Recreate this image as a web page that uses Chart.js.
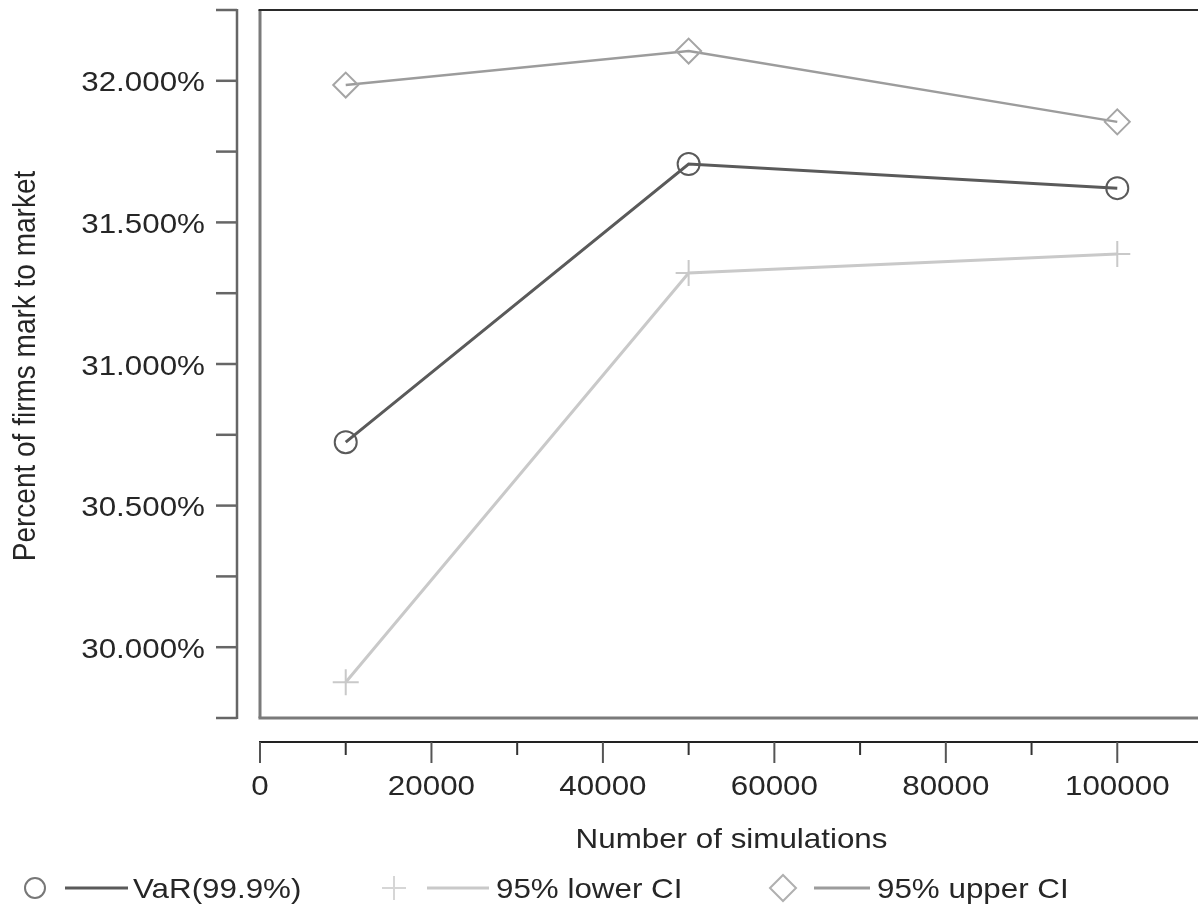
<!DOCTYPE html>
<html>
<head>
<meta charset="utf-8">
<script src="https://cdn.jsdelivr.net/npm/chart.js@4.4.1/dist/chart.umd.min.js"></script>
<style>
  html, body { margin: 0; padding: 0; background: #fff; overflow: hidden; width: 1198px; height: 910px; }
  canvas { display: block; }
</style>
</head>
<body>
<canvas id="c" width="1210" height="910"></canvas>
<script>
// Simulation counts and the resulting share of firms marked to market (%)
const simulations = [10000, 50000, 100000];
const varEstimate = [30.724, 31.706, 31.621];
const lowerCI     = [29.876, 31.321, 31.388];
const upperCI     = [31.985, 32.105, 31.855];

const seriesNames = ['VaR(99.9%)', '95% lower CI', '95% upper CI'];
const xTitle = 'Number of simulations';
const yTitle = 'Percent of firms mark to market';

// Axis ranges and tick spacing
const xRange = [0, 110000];
const xStep = 10000;
const xLabelEvery = 20000;
const yRange = [29.75, 32.25];
const yStep = 0.25;
const yLabelEvery = 0.5;

const FONT = '"Liberation Sans", Arial, Helvetica, sans-serif';
const STRETCH = 1.1;
const INK = '#262626';

function toPoints(ys) {
  return simulations.map((x, i) => ({ x: x, y: ys[i] }));
}

function drawText(ctx, str, x, y, size, align, rotate) {
  ctx.save();
  ctx.translate(x, y);
  if (rotate) {
    ctx.rotate(rotate);
    ctx.scale(1, STRETCH);
  } else {
    ctx.scale(STRETCH, 1);
  }
  ctx.font = size + 'px ' + FONT;
  ctx.fillStyle = INK;
  ctx.textAlign = align;
  ctx.textBaseline = 'alphabetic';
  ctx.fillText(str, 0, 0);
  ctx.restore();
}

function line(ctx, x1, y1, x2, y2, color, width) {
  ctx.save();
  ctx.strokeStyle = color;
  ctx.lineWidth = width;
  ctx.lineCap = 'butt';
  ctx.beginPath();
  ctx.moveTo(x1, y1);
  ctx.lineTo(x2, y2);
  ctx.stroke();
  ctx.restore();
}

function marker(ctx, style, x, y, r, color) {
  ctx.save();
  ctx.strokeStyle = color;
  ctx.lineWidth = 2;
  ctx.beginPath();
  if (style === 'circle') {
    ctx.arc(x, y, r, 0, Math.PI * 2);
  } else if (style === 'cross') {
    ctx.moveTo(x - r, y); ctx.lineTo(x + r, y);
    ctx.moveTo(x, y - r); ctx.lineTo(x, y + r);
  } else if (style === 'rectRot') {
    ctx.moveTo(x - r, y); ctx.lineTo(x, y - r);
    ctx.lineTo(x + r, y); ctx.lineTo(x, y + r);
    ctx.closePath();
  }
  ctx.stroke();
  ctx.restore();
}

// R-style detached axes, plot frame, titles and bottom legend
const baseGraphics = {
  id: 'baseGraphics',
  afterDraw(chart) {
    const ctx = chart.ctx;
    const xs = chart.scales.x;
    const ys = chart.scales.y;
    const area = chart.chartArea;
    const W = chart.width;

    // plot frame
    line(ctx, area.left, area.top, area.left, area.bottom, '#7a7a7a', 3);
    line(ctx, area.left - 1.5, area.bottom, W, area.bottom, '#7a7a7a', 3);
    line(ctx, area.left - 1.5, area.top, W, area.top, '#2a2a2a', 2);

    // y axis, offset to the left of the frame
    const yAxisX = area.left - 23;
    line(ctx, yAxisX, ys.getPixelForValue(yRange[1]) - 1, yAxisX, ys.getPixelForValue(yRange[0]) + 1, '#666', 2.5);
    ys.ticks.forEach(t => {
      const py = ys.getPixelForValue(t.value);
      line(ctx, yAxisX - 21, py, yAxisX, py, '#666', 2.5);
      const k = Math.round(t.value / yLabelEvery * 1000) / 1000;
      if (Math.abs(k - Math.round(k)) < 1e-6) {
        drawText(ctx, t.value.toFixed(3) + '%', yAxisX - 32, py + 10.5, 28.5, 'right');
      }
    });

    // x axis, offset below the frame
    const xAxisY = area.bottom + 24;
    line(ctx, xs.getPixelForValue(xRange[0]) - 1, xAxisY, W, xAxisY, '#222', 2);
    xs.ticks.forEach(t => {
      const px = xs.getPixelForValue(t.value);
      const major = t.value % xLabelEvery === 0;
      line(ctx, px, xAxisY, px, xAxisY + (major ? 21 : 13), major ? '#555' : '#333', 2);
      if (major) {
        drawText(ctx, String(t.value), px, 795, 28.5, 'center');
      }
    });

    // axis titles
    drawText(ctx, xTitle, (area.left + area.right) / 2, 848, 28.5, 'center');
    drawText(ctx, yTitle, 35, (area.top + area.bottom) / 2 + 2, 28, 'center', -Math.PI / 2);

    // legend row
    const legendY = 888;
    const slots = [
      { mark: 35, from: 65, to: 128, text: 133 },
      { mark: 394, from: 427, to: 489, text: 496 },
      { mark: 783, from: 814, to: 870, text: 877 }
    ];
    chart.data.datasets.forEach((ds, i) => {
      const s = slots[i];
      const col = ds.borderColor;
      const markColor = ds.legendMarkerColor || col;
      marker(ctx, ds.pointStyle, s.mark, legendY, ds.legendMarkerSize, markColor);
      line(ctx, s.from, legendY, s.to, legendY, col, 3);
      drawText(ctx, ds.label, s.text, legendY + 10, 28.5, 'left');
    });
  }
};

new Chart(document.getElementById('c'), {
  type: 'line',
  data: {
    datasets: [
      {
        label: seriesNames[0],
        data: toPoints(varEstimate),
        borderColor: '#5a5a5a',
        borderWidth: 3,
        pointStyle: 'circle',
        pointRadius: 11,
        pointBorderWidth: 2,
        pointBackgroundColor: 'rgba(0,0,0,0)',
        pointBorderColor: '#5a5a5a',
        legendMarkerSize: 10,
        legendMarkerColor: '#777'
      },
      {
        label: seriesNames[1],
        data: toPoints(lowerCI),
        borderColor: '#c9c9c9',
        borderWidth: 3,
        pointStyle: 'cross',
        pointRadius: 13,
        pointBorderWidth: 2,
        pointBackgroundColor: 'rgba(0,0,0,0)',
        pointBorderColor: '#c9c9c9',
        legendMarkerSize: 12,
        legendMarkerColor: '#d6d6d6'
      },
      {
        label: seriesNames[2],
        data: toPoints(upperCI),
        borderColor: '#9c9c9c',
        borderWidth: 2.5,
        pointStyle: 'rectRot',
        pointRadius: 12.5,
        pointBorderWidth: 2,
        pointBackgroundColor: 'rgba(0,0,0,0)',
        pointBorderColor: '#a5a5a5',
        legendMarkerSize: 13,
        legendMarkerColor: '#b0b0b0'
      }
    ]
  },
  options: {
    responsive: false,
    animation: false,
    devicePixelRatio: 1,
    clip: false,
    layout: { autoPadding: false, padding: { left: 260, right: 7, top: 10, bottom: 192 } },
    elements: { line: { tension: 0, fill: false } },
    plugins: { legend: { display: false }, tooltip: { enabled: false } },
    scales: {
      x: {
        type: 'linear',
        display: false,
        min: xRange[0],
        max: xRange[1],
        ticks: { stepSize: xStep }
      },
      y: {
        type: 'linear',
        display: false,
        min: yRange[0],
        max: yRange[1],
        ticks: { stepSize: yStep }
      }
    }
  },
  plugins: [baseGraphics]
});
</script>
</body>
</html>
